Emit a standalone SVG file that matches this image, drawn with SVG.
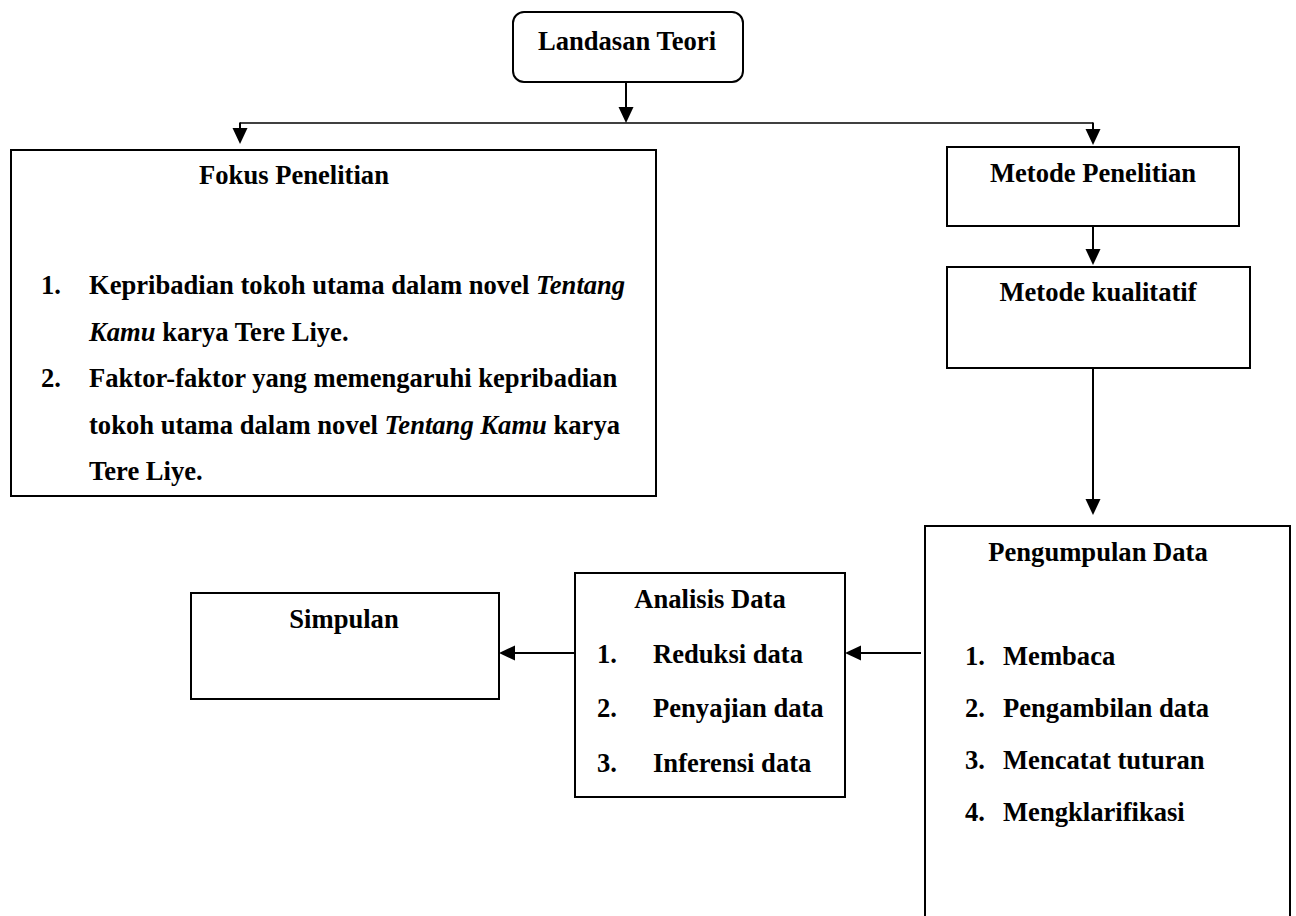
<svg xmlns="http://www.w3.org/2000/svg" width="1296" height="916" viewBox="0 0 1296 916">
<style>
.box{fill:#fff;stroke:#000;stroke-width:2}
.t{font-family:"Liberation Serif","Times New Roman",serif;font-weight:bold;font-size:26.6px;fill:#000}
.c{text-anchor:middle}
.conn{stroke:#000;stroke-width:2;fill:none}
</style>
<defs>
<marker id="ah" markerUnits="userSpaceOnUse" markerWidth="18" markerHeight="16" refX="3" refY="7.5" orient="auto">
<path d="M0,0 L16,7.5 L0,15 z" fill="#000"/>
</marker>
</defs>
<rect width="1296" height="916" fill="#fff"/>
<g id="connectors">
<line class="conn" x1="626" y1="83" x2="626" y2="110" marker-end="url(#ah)"/>
<line class="conn" x1="240" y1="123" x2="1093" y2="123" style="stroke-width:1.6"/>
<line class="conn" x1="240" y1="122.5" x2="240" y2="131" marker-end="url(#ah)"/>
<line class="conn" x1="1093" y1="122.5" x2="1093" y2="132" marker-end="url(#ah)"/>
<line class="conn" x1="1093" y1="226" x2="1093" y2="252" marker-end="url(#ah)"/>
<line class="conn" x1="1093" y1="369" x2="1093" y2="502" marker-end="url(#ah)"/>
<line class="conn" x1="921" y1="653" x2="858" y2="653" marker-end="url(#ah)"/>
<line class="conn" x1="575" y1="653" x2="512" y2="653" marker-end="url(#ah)"/>
</g>
<g id="landasan">
<rect class="box" x="513" y="12" width="230" height="70" rx="11"/>
<text class="t c" x="627" y="50">Landasan Teori</text>
</g>
<g id="fokus">
<rect class="box" x="11" y="150" width="645" height="346"/>
<text class="t c" x="294" y="184">Fokus Penelitian</text>
<text class="t" x="41" y="294">1.</text>
<text class="t" x="89" y="294">Kepribadian tokoh utama dalam novel <tspan font-style="italic">Tentang</tspan></text>
<text class="t" x="89" y="340.5"><tspan font-style="italic">Kamu</tspan> karya Tere Liye.</text>
<text class="t" x="41" y="387">2.</text>
<text class="t" x="89" y="387">Faktor-faktor yang memengaruhi kepribadian</text>
<text class="t" x="89" y="433.5">tokoh utama dalam novel <tspan font-style="italic">Tentang Kamu</tspan> karya</text>
<text class="t" x="89" y="480">Tere Liye.</text>
</g>
<g id="metode-penelitian">
<rect class="box" x="947" y="147" width="292" height="79"/>
<text class="t c" x="1093" y="182">Metode Penelitian</text>
</g>
<g id="metode-kualitatif">
<rect class="box" x="947" y="267" width="303" height="101"/>
<text class="t c" x="1098" y="301">Metode kualitatif</text>
</g>
<g id="pengumpulan">
<rect class="box" x="925" y="526" width="365" height="400"/>
<text class="t c" x="1098" y="561">Pengumpulan Data</text>
<text class="t" x="965" y="665">1.</text>
<text class="t" x="1003" y="665">Membaca</text>
<text class="t" x="965" y="717">2.</text>
<text class="t" x="1003" y="717">Pengambilan data</text>
<text class="t" x="965" y="769">3.</text>
<text class="t" x="1003" y="769">Mencatat tuturan</text>
<text class="t" x="965" y="821">4.</text>
<text class="t" x="1003" y="821">Mengklarifikasi</text>
</g>
<g id="analisis">
<rect class="box" x="575" y="573" width="270" height="224"/>
<text class="t c" x="710" y="608">Analisis Data</text>
<text class="t" x="597" y="663">1.</text>
<text class="t" x="653" y="663">Reduksi data</text>
<text class="t" x="597" y="717">2.</text>
<text class="t" x="653" y="717">Penyajian data</text>
<text class="t" x="597" y="772">3.</text>
<text class="t" x="653" y="772">Inferensi data</text>
</g>
<g id="simpulan">
<rect class="box" x="191" y="593" width="308" height="106"/>
<text class="t c" x="344" y="628">Simpulan</text>
</g>
</svg>
